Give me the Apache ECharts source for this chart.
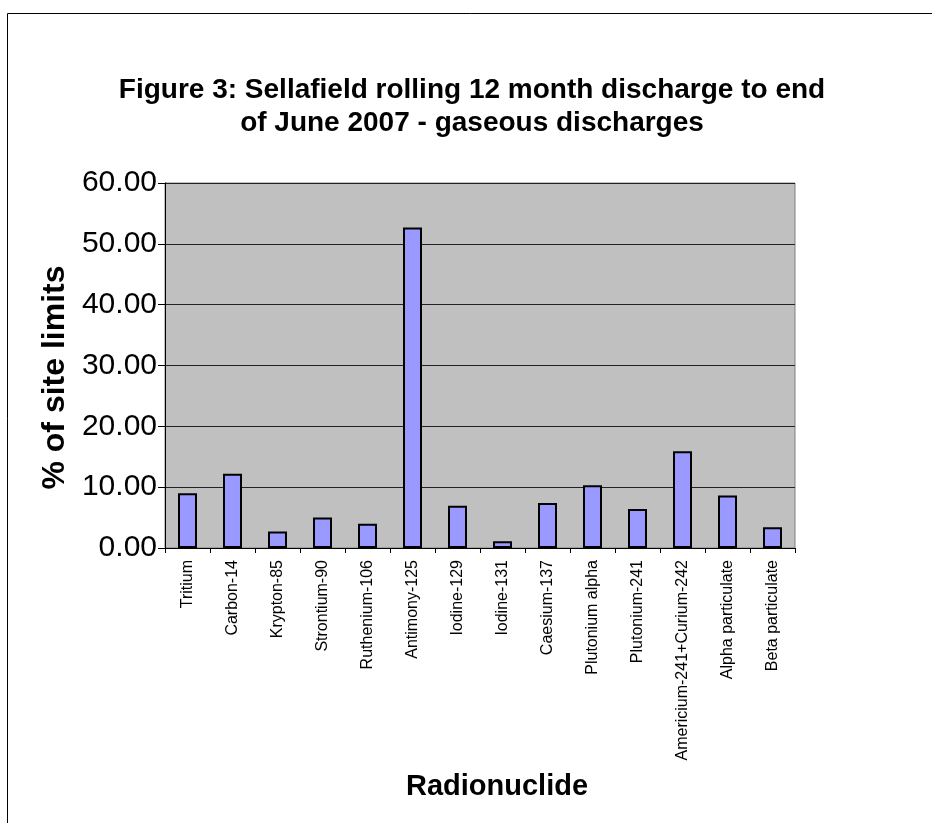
<!DOCTYPE html>
<html>
<head>
<meta charset="utf-8">
<style>
  html, body { margin: 0; padding: 0; background: #fff; }
  #chart { width: 932px; height: 823px; }
</style>
<script src="https://cdn.jsdelivr.net/npm/echarts@6/dist/echarts.min.js"></script>
</head>
<body>
<div id="chart"></div>
<script>
const categories = [
  "Tritium", "Carbon-14", "Krypton-85", "Strontium-90", "Ruthenium-106",
  "Antimony-125", "Iodine-129", "Iodine-131", "Caesium-137", "Plutonium alpha",
  "Plutonium-241", "Americium-241+Curium-242", "Alpha particulate", "Beta particulate"
];
const percentOfLimits = [9.0, 12.2, 2.7, 5.0, 4.0, 52.7, 6.95, 1.1, 7.4, 10.3, 6.4, 15.9, 8.65, 3.4];
const yTicks = { min: 0, max: 60, interval: 10 };

const FONT = "'Liberation Sans', Arial, sans-serif";
const chart = echarts.init(document.getElementById('chart'), null, { renderer: 'canvas' });
chart.setOption({
  backgroundColor: '#ffffff',
  animation: false,
  graphic: [{
    type: 'rect',
    shape: { x: 7.5, y: 13.5, width: 1000, height: 1000 },
    style: { fill: 'none', stroke: '#000', lineWidth: 1 },
    silent: true
  }],
  title: {
    text: 'Figure 3: Sellafield rolling 12 month discharge to end\nof June 2007 - gaseous discharges',
    left: 467,
    top: 69,
    textAlign: 'center',
    textStyle: { fontFamily: FONT, fontSize: 28, fontWeight: 'bold', color: '#000', lineHeight: 33 }
  },
  grid: {
    left: 165, right: 137, top: 183, bottom: 275,
    show: true, backgroundColor: '#C0C0C0', borderColor: '#808080', borderWidth: 1
  },
  xAxis: {
    type: 'category',
    data: categories,
    name: 'Radionuclide',
    nameLocation: 'middle',
    nameGap: 224,
    nameTextStyle: { fontFamily: FONT, fontSize: 29, fontWeight: 'bold', color: '#000', padding: [0, 0, 0, 34] },
    axisLine: { show: true, lineStyle: { color: '#000', width: 1 } },
    axisTick: { show: true, alignWithLabel: false, length: 5, lineStyle: { color: '#000' } },
    axisLabel: {
      rotate: 90, interval: 0, margin: 12,
      fontFamily: FONT, fontSize: 16, color: '#000'
    },
    splitLine: { show: false }
  },
  yAxis: {
    type: 'value',
    min: yTicks.min, max: yTicks.max, interval: yTicks.interval,
    name: '% of site limits',
    nameLocation: 'middle',
    nameRotate: 90,
    nameGap: 93,
    nameTextStyle: { fontFamily: FONT, fontSize: 32, fontWeight: 'bold', color: '#000', padding: [0, 24, 0, 0] },
    axisLine: { show: true, lineStyle: { color: '#000', width: 1 } },
    axisTick: { show: true, length: 7, lineStyle: { color: '#000' } },
    axisLabel: {
      margin: 8, fontFamily: FONT, fontSize: 30, color: '#000',
      formatter: v => v.toFixed(2)
    },
    splitLine: { show: true, lineStyle: { color: '#222', width: 1 } }
  },
  series: [{
    type: 'bar',
    data: percentOfLimits,
    barWidth: 19,
    itemStyle: { color: '#9999FF', borderColor: '#000', borderWidth: 2 }
  }]
});
</script>
</body>
</html>
